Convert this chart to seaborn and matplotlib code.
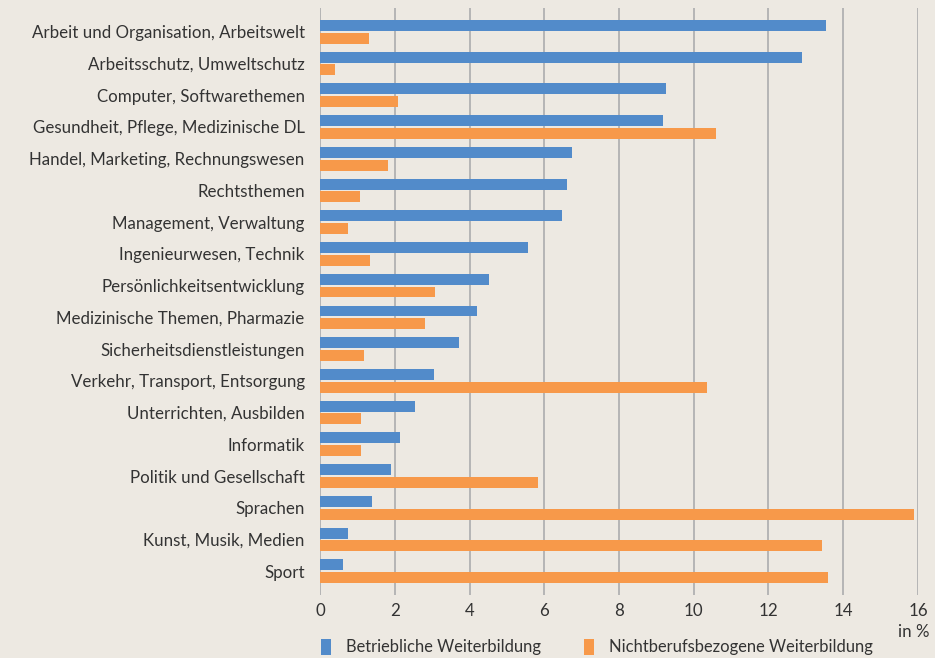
import matplotlib
matplotlib.use("Agg")
import matplotlib.pyplot as plt
import seaborn as sns
import pandas as pd
from matplotlib.patches import Patch

categories = [
    "Arbeit und Organisation, Arbeitswelt",
    "Arbeitsschutz, Umweltschutz",
    "Computer, Softwarethemen",
    "Gesundheit, Pflege, Medizinische DL",
    "Handel, Marketing, Rechnungswesen",
    "Rechtsthemen",
    "Management, Verwaltung",
    "Ingenieurwesen, Technik",
    "Persönlichkeitsentwicklung",
    "Medizinische Themen, Pharmazie",
    "Sicherheitsdienstleistungen",
    "Verkehr, Transport, Entsorgung",
    "Unterrichten, Ausbilden",
    "Informatik",
    "Politik und Gesellschaft",
    "Sprachen",
    "Kunst, Musik, Medien",
    "Sport",
]
betrieblich = [13.53, 12.90, 9.26, 9.18, 6.73, 6.62, 6.48, 5.57, 4.51, 4.19,
               3.71, 3.04, 2.53, 2.15, 1.89, 1.38, 0.75, 0.61]
nichtberuf = [1.30, 0.39, 2.10, 10.60, 1.81, 1.06, 0.75, 1.35, 3.09, 2.80,
              1.17, 10.35, 1.09, 1.11, 5.82, 15.89, 13.42, 13.59]
series_names = ["Betriebliche Weiterbildung", "Nichtberufsbezogene Weiterbildung"]
x_ticks = [0, 2, 4, 6, 8, 10, 12, 14, 16]

bg = "#EDE9E2"
blue = "#528BCA"
orange = "#F7994A"
text_col = "#333333"

df = pd.DataFrame({
    "Kategorie": categories * 2,
    "Wert": betrieblich + nichtberuf,
    "Serie": [series_names[0]] * len(categories) + [series_names[1]] * len(categories),
})

sns.set_theme(style="white")
plt.rcParams["font.family"] = ["Lato", "DejaVu Sans"]
fs = 12.2

fig = plt.figure(figsize=(9.35, 6.58), dpi=100)
fig.patch.set_facecolor(bg)
ax = fig.add_axes([320 / 935, 1 - 595 / 658, (918 - 320) / 935, (595 - 8) / 658])
ax.set_facecolor(bg)

sns.barplot(data=df, y="Kategorie", x="Wert", hue="Serie", orient="h",
            palette=[blue, orange], width=0.8, gap=0.14, saturation=1,
            linewidth=0, edgecolor="none",
            ax=ax, legend=False, zorder=3)

ax.set_xlim(0, 16)
ax.set_ylim(len(categories) - 1 + 0.75, -0.75)
ax.set_xticks(x_ticks)
ax.set_xticklabels([str(t) for t in x_ticks])
ax.xaxis.grid(True, color="#B5B5B5", linewidth=1.4, zorder=0)
ax.yaxis.grid(False)
ax.set_axisbelow(True)
for s in ax.spines.values():
    s.set_visible(False)
ax.axvline(0, color="#B5B5B5", linewidth=1.4, zorder=1)
ax.tick_params(axis="y", length=0, pad=11, labelsize=fs, labelcolor=text_col)
ax.tick_params(axis="x", length=0, pad=6, labelsize=fs, labelcolor=text_col)
ax.set_xlabel("")
ax.set_ylabel("")

fig.text(929 / 935, 1 - 632 / 658, "in %", ha="right", va="center",
         fontsize=fs, color=text_col)

handles = [Patch(facecolor=blue, edgecolor="none"), Patch(facecolor=orange, edgecolor="none")]
fig.legend(handles, series_names, loc="center", bbox_to_anchor=(597 / 935, 1 - 647 / 658),
           ncol=2, frameon=False, fontsize=11.9, handlelength=0.6, handleheight=1.1,
           handletextpad=0.9, columnspacing=2.6, labelcolor=text_col)

fig.savefig("out.png", dpi=100, facecolor=bg)
